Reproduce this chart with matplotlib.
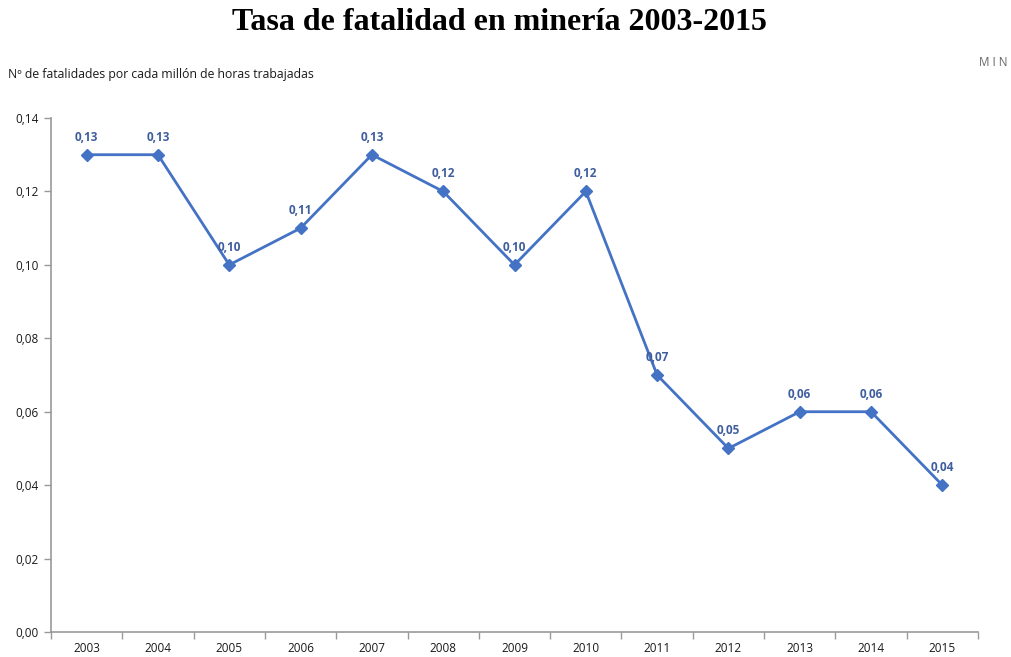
import matplotlib
matplotlib.use("Agg")
import matplotlib.pyplot as plt
from matplotlib.ticker import FixedLocator

years = ["2003", "2004", "2005", "2006", "2007", "2008", "2009",
         "2010", "2011", "2012", "2013", "2014", "2015"]
rates = [0.13, 0.13, 0.10, 0.11, 0.13, 0.12, 0.10,
         0.12, 0.07, 0.05, 0.06, 0.06, 0.04]
y_ticks = [0.00, 0.02, 0.04, 0.06, 0.08, 0.10, 0.12, 0.14]

line_color = "#4472C4"
label_color = "#3F5E9E"
font = ["Open Sans", "DejaVu Sans"]

fig = plt.figure(figsize=(10.12, 6.57), dpi=100)
ax = fig.add_axes([0.0504, 0.038, 0.916, 0.7824])

x = list(range(len(years)))
ax.plot(x, rates, color=line_color, lw=2, marker="D", markersize=6)

for xi, v in zip(x, rates):
    ax.annotate(f"{v:.2f}".replace(".", ","), (xi, v), xytext=(0, 8),
                textcoords="offset points", ha="center", va="bottom",
                fontsize=8.5, fontweight="bold", color=label_color, family=font)

ax.set_xlim(-0.5, len(years) - 0.5)
ax.set_ylim(0, 0.14)
ax.set_yticks(y_ticks)
ax.set_yticklabels([f"{t:.2f}".replace(".", ",") for t in y_ticks],
                   fontsize=8.5, family=font, color="#1a1a1a")
ax.set_xticks(x)
ax.set_xticklabels(years, fontsize=8.5, family=font, color="#1a1a1a")
ax.tick_params(axis="x", length=0, pad=7)
ax.xaxis.set_minor_locator(FixedLocator([i - 0.5 for i in range(len(years) + 1)]))
ax.tick_params(axis="x", which="minor", length=5, color="#999999", width=1)
ax.tick_params(axis="y", length=5, color="#999999", width=1, pad=4)

for s in ["top", "right"]:
    ax.spines[s].set_visible(False)
for s in ["left", "bottom"]:
    ax.spines[s].set_color("#999999")
    ax.spines[s].set_linewidth(1.2)

fig.text(0.494, 0.965, "Tasa de fatalidad en minería 2003-2015", ha="center", va="center",
         fontsize=23, fontweight="bold", family="Liberation Serif")
fig.text(0.008, 0.887, "Nº de fatalidades por cada millón de horas trabajadas",
         ha="left", va="center", fontsize=8.8, family=font, color="#1a1a1a")
fig.text(0.996, 0.905, "M I N", ha="right", va="center", fontsize=8.5, family=font,
         color="#666666")

fig.savefig("out.png", dpi=100)
